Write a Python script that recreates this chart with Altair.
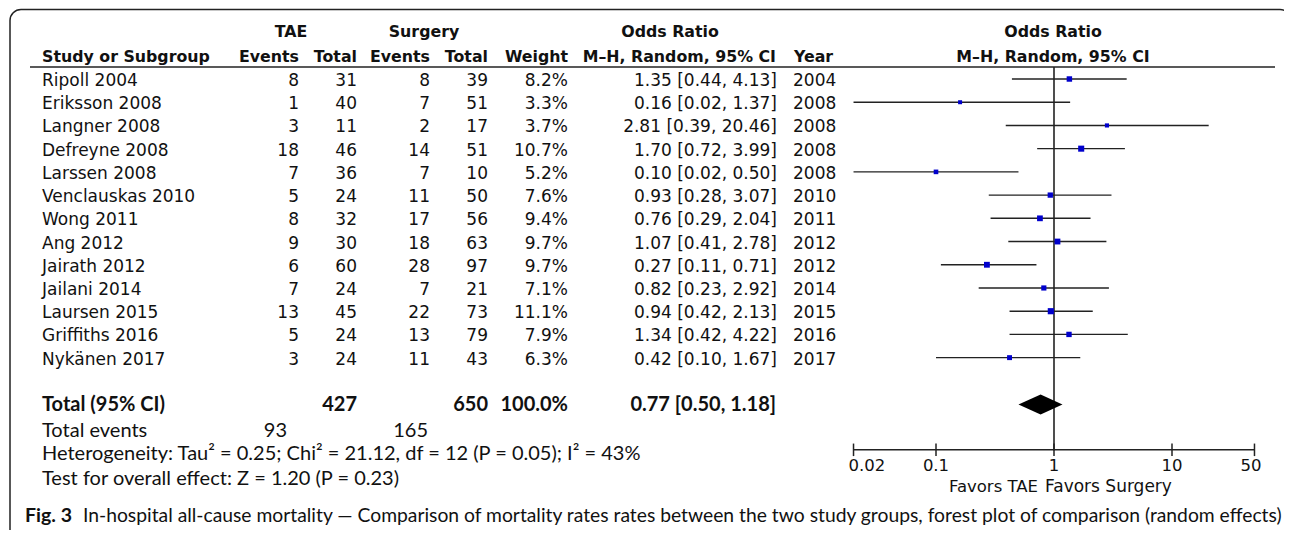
import math
import altair as alt
import pandas as pd

# ---------------- data ----------------
studies = ["Ripoll 2004", "Eriksson 2008", "Langner 2008", "Defreyne 2008", "Larssen 2008",
           "Venclauskas 2010", "Wong 2011", "Ang 2012", "Jairath 2012", "Jailani 2014",
           "Laursen 2015", "Griffiths 2016", "Nykänen 2017"]
tae_events = [8, 1, 3, 18, 7, 5, 8, 9, 6, 7, 13, 5, 3]
tae_total = [31, 40, 11, 46, 36, 24, 32, 30, 60, 24, 45, 24, 24]
sur_events = [8, 7, 2, 14, 7, 11, 17, 18, 28, 7, 22, 13, 11]
sur_total = [39, 51, 17, 51, 10, 50, 56, 63, 97, 21, 73, 79, 43]
weights = [8.2, 3.3, 3.7, 10.7, 5.2, 7.6, 9.4, 9.7, 9.7, 7.1, 11.1, 7.9, 6.3]
odds = [1.35, 0.16, 2.81, 1.70, 0.10, 0.93, 0.76, 1.07, 0.27, 0.82, 0.94, 1.34, 0.42]
ci_low = [0.44, 0.02, 0.39, 0.72, 0.02, 0.28, 0.29, 0.41, 0.11, 0.23, 0.42, 0.42, 0.10]
ci_high = [4.13, 1.37, 20.46, 3.99, 0.50, 3.07, 2.04, 2.78, 0.71, 2.92, 2.13, 4.22, 1.67]
years = [2004, 2008, 2008, 2008, 2008, 2010, 2011, 2012, 2012, 2014, 2015, 2016, 2017]

total_tae = 427
total_sur = 650
total_weight = "100.0%"
pooled = [0.50, 0.77, 1.18]          # lower, estimate, upper
events_tae = 93
events_sur = 165
heterogeneity = "Heterogeneity: Tau² = 0.25; Chi² = 21.12, df = 12 (P = 0.05); I² = 43%"
overall = "Test for overall effect: Z = 1.20 (P = 0.23)"
tick_values = [0.02, 0.1, 1, 10, 50]
tick_labels = ["0.02", "0.1", "1", "10", "50"]
caption_bold = "Fig. 3"
caption_rest = ("In-hospital all-cause mortality — Comparison of mortality rates rates between the "
                "two study groups, forest plot of comparison (random effects)")

# ---------------- layout ----------------
W, H = 1276, 522
ROW0, STEP = 71.0, 23.22          # plot-y of first study row, row spacing
r_top = -ROW0 / STEP
r_bot = (H - ROW0) / STEP
X1, DEC = 1046.0, 118.0           # plot-x of OR=1, pixels per decade
x_lo = 10 ** (-X1 / DEC)
x_hi = 10 ** ((W - X1) / DEC)

yscale = alt.Scale(domain=[r_top, r_bot], reverse=True, nice=False, zero=False)
xscale = alt.Scale(type="log", domain=[x_lo, x_hi], nice=False)

TFONT = "DejaVu Sans"
SFONT = "Lato"
INK = "#111111"
BODY = 17
SS = 20

df = pd.DataFrame({
    "r": list(range(len(studies))),
    "study": studies,
    "te": tae_events, "tt": tae_total, "se": sur_events, "st": sur_total,
    "wt": [f"{w:.1f}%" for w in weights],
    "ci": [f"{o:.2f} [{l:.2f}, {h:.2f}]" for o, l, h in zip(odds, ci_low, ci_high)],
    "yr": years,
    "or": odds, "lo": ci_low, "hi": ci_high, "w": weights,
})

Y = alt.Y("r:Q", scale=yscale, axis=None)


def col(field, xpx, align="right", size=BODY, font=TFONT, weight="normal"):
    return alt.Chart(df).mark_text(align=align, baseline="middle", font=font, fontSize=size,
                                   fontWeight=weight, color=INK, dy=2).encode(
        x=alt.value(xpx), y=Y, text=alt.Text(f"{field}:N"))


def label(txt, xpx, r, align="left", size=BODY, font=TFONT, weight="normal"):
    return alt.Chart(pd.DataFrame({"t": [txt], "r": [r]})).mark_text(
        align=align, baseline="middle", font=font, fontSize=size, fontWeight=weight,
        color=INK).encode(x=alt.value(xpx), y=Y, text="t:N")


layers = []

# box
layers.append(alt.Chart(pd.DataFrame({"a": [0]})).mark_rect(
    fill="transparent", stroke="#222222", strokeWidth=1.5, cornerRadius=11).encode(
    x=alt.value(2), x2=alt.value(1283), y=alt.value(1.5), y2=alt.value(540)))

# headers
HB = 15.8
layers += [
    label("TAE", 283, -2.02, "center", HB, weight="bold"),
    label("Surgery", 416, -2.02, "center", HB, weight="bold"),
    label("Odds Ratio", 662, -2.02, "center", HB, weight="bold"),
    label("Odds Ratio", 1045, -2.02, "center", HB, weight="bold"),
    label("Study or Subgroup", 34, -0.95, "left", HB, weight="bold"),
    label("Events", 291, -0.95, "right", HB, weight="bold"),
    label("Total", 349, -0.95, "right", HB, weight="bold"),
    label("Events", 422, -0.95, "right", HB, weight="bold"),
    label("Total", 480, -0.95, "right", HB, weight="bold"),
    label("Weight", 560, -0.95, "right", HB, weight="bold"),
    label("M–H, Random, 95% CI", 768, -0.95, "right", HB, weight="bold"),
    label("Year", 786, -0.95, "left", HB, weight="bold"),
    label("M–H, Random, 95% CI", 1045, -0.95, "center", HB, weight="bold"),
]

# header underline
layers.append(alt.Chart(pd.DataFrame({"r": [-0.52]})).mark_rule(color="#222222", strokeWidth=1.5).encode(
    x=alt.value(22), x2=alt.value(1267), y=Y))

# study rows
layers += [
    col("study", 34, "left"),
    col("te", 291), col("tt", 349), col("se", 422), col("st", 480),
    col("wt", 560), col("ci", 769), col("yr", 785, "left"),
]

# totals
R_TOT, R_EV, R_HET, R_TEST = 14.04, 15.14, 16.15, 17.23
layers += [
    label("Total (95% CI)", 34, R_TOT, "left", SS, SFONT, "bold"),
    label(str(total_tae), 349, R_TOT, "right", SS, SFONT, "bold"),
    label(str(total_sur), 480, R_TOT, "right", SS, SFONT, "bold"),
    label(total_weight, 560, R_TOT, "right", SS, SFONT, "bold"),
    label(f"{pooled[1]:.2f} [{pooled[0]:.2f}, {pooled[2]:.2f}]", 768, R_TOT, "right", SS, SFONT, "bold"),
    label("Total events", 34, R_EV, "left", SS, SFONT),
    label(str(events_tae), 279, R_EV, "right", SS, SFONT),
    label(str(events_sur), 420, R_EV, "right", SS, SFONT),
    label(heterogeneity, 34, R_HET, "left", SS, SFONT),
    label(overall, 34, R_TEST, "left", SS, SFONT),
]

# forest: vertical line at 1
layers.append(alt.Chart(pd.DataFrame({"v": [1.0], "r1": [-0.52], "r2": [16.0]})).mark_rule(
    color="#222222", strokeWidth=1.6).encode(
    x=alt.X("v:Q", scale=xscale, axis=None), y=alt.Y("r1:Q", scale=yscale, axis=None), y2="r2:Q"))

# CI lines
layers.append(alt.Chart(df).mark_rule(color="#222222", strokeWidth=1.4).encode(
    x=alt.X("lo:Q", scale=xscale, axis=None), x2="hi:Q", y=Y))

# squares
layers.append(alt.Chart(df).mark_square(color="#0000CC", opacity=1, filled=True).encode(
    x=alt.X("or:Q", scale=xscale, axis=None), y=Y,
    size=alt.Size("w:Q", scale=alt.Scale(domain=[3.3, 11.1], range=[16, 38], zero=False), legend=None)))

# pooled diamond
DH = 0.43
dia = pd.DataFrame({"x": pooled, "y1": [R_TOT - 0.02, R_TOT - 0.02 - DH, R_TOT - 0.02],
                    "y2": [R_TOT - 0.02, R_TOT - 0.02 + DH, R_TOT - 0.02]})
layers.append(alt.Chart(dia).mark_area(color="#000000", opacity=1, line=False).encode(
    x=alt.X("x:Q", scale=xscale, axis=None), y=alt.Y("y1:Q", scale=yscale, axis=None), y2="y2:Q"))

# axis line and ticks
R_AX = 15.97
layers.append(alt.Chart(pd.DataFrame({"a": [tick_values[0]], "b": [tick_values[-1]], "r": [R_AX]})).mark_rule(
    color="#222222", strokeWidth=1.5).encode(
    x=alt.X("a:Q", scale=xscale, axis=None), x2="b:Q", y=Y))
ticks = pd.DataFrame({"v": tick_values, "lab": tick_labels,
                      "r1": [R_AX - 0.27] * 5, "r2": [R_AX + 0.27] * 5, "rl": [16.66] * 5})
layers.append(alt.Chart(ticks).mark_rule(color="#222222", strokeWidth=1.5).encode(
    x=alt.X("v:Q", scale=xscale, axis=None), y=alt.Y("r1:Q", scale=yscale, axis=None), y2="r2:Q"))
for sel, al, dx in [([0], "left", -5), ([1, 2, 3], "center", 0), ([4], "right", 7)]:
    layers.append(alt.Chart(ticks.iloc[sel]).mark_text(
        align=al, baseline="middle", font=TFONT, fontSize=16.5, color=INK, dx=dx).encode(
        x=alt.X("v:Q", scale=xscale, axis=None), y=alt.Y("rl:Q", scale=yscale, axis=None), text="lab:N"))

layers += [
    label("Favors TAE", 1030, 17.57, "right", 16.5),
    label("Favors Surgery", 1037, 17.57, "left", 17),
]

# caption
R_CAP = 18.82
layers += [
    label(caption_bold, 17, R_CAP, "left", 19.5, SFONT, "bold"),
    label(caption_rest, 75, R_CAP, "left", 19.3, SFONT),
]

chart = alt.layer(*layers).properties(
    width=W, height=H, padding=0, autosize=alt.AutoSizeParams(type="none")
).configure_view(stroke=None)

chart.save("out.html", embed_options={"renderer": "svg", "actions": False})
